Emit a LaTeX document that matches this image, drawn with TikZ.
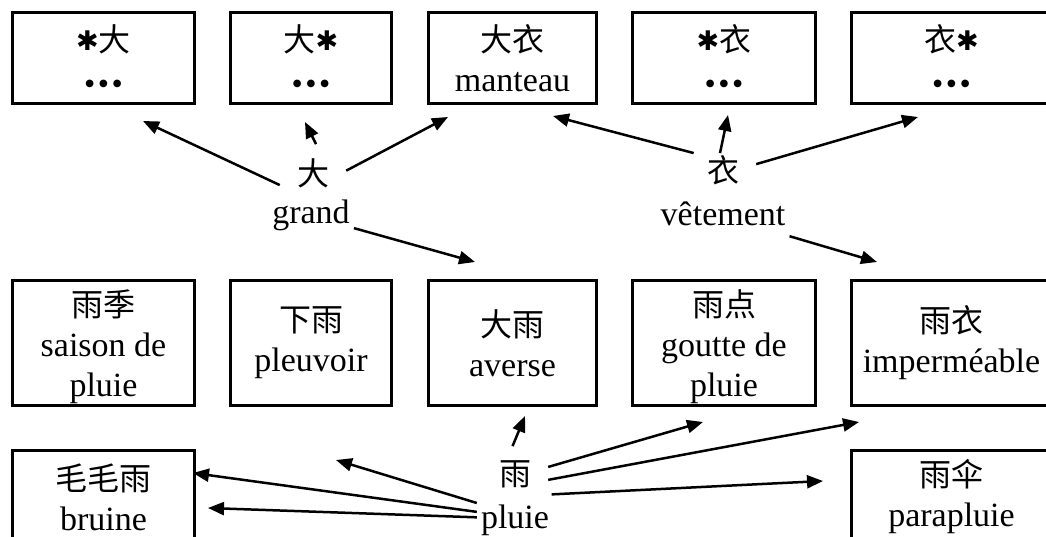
\documentclass[tikz,border=0pt]{standalone}
\usepackage{fontspec}
\setmainfont{Liberation Serif}
\newfontfamily\cjk{Noto Sans CJK SC}
\newfontfamily\dejavu{DejaVu Sans}
\newcommand{\zh}[1]{{\cjk\fontsize{32}{40}\selectfont #1}}
\newcommand{\xing}{\raisebox{1pt}{\dejavu\fontsize{27}{40}\selectfont ✱}}
\newcommand{\sandian}{\raisebox{5pt}{\dejavu\fontsize{10}{40}\selectfont ●\hspace{5pt}●\hspace{5pt}●}}
\usetikzlibrary{arrows.meta}

\begin{document}
\begin{tikzpicture}[x=1pt, y=-1pt, >={Triangle[length=16pt,width=13pt]},
    font=\fontsize{34}{40}\selectfont,
    box/.style={draw, line width=3pt, inner sep=0pt, align=center},
    hub/.style={inner xsep=17pt, inner ysep=14pt},
    word/.style={inner xsep=4pt, inner ysep=10pt},
    arr/.style={->, line width=2.5pt}]
    \useasboundingbox (0,0) rectangle (1046,537);
    \clip (0,0) rectangle (1046,537);

    % --- 上排 ---
    \node[box, minimum width=182pt, minimum height=91pt] (sda) at (103.5,58) {\xing\zh{大}\\\sandian};
    \node[box, minimum width=161pt, minimum height=91pt] (das) at (311,58) {\zh{大}\xing\\\sandian};
    \node[box, minimum width=168pt, minimum height=91pt] (dayi) at (512.5,58) {\zh{大衣}\\manteau};
    \node[box, minimum width=183pt, minimum height=91pt] (syi) at (724,58) {\xing\zh{衣}\\\sandian};
    \node[box, minimum width=200pt, minimum height=91pt] (yis) at (951.5,58) {\zh{衣}\xing\\\sandian};

    % --- 中排 ---
    \node[box, minimum width=182pt, minimum height=125pt, text depth=-4pt] (yuji) at (103.5,343) {\zh{雨季}\\saison de\\pluie};
    \node[box, minimum width=161pt, minimum height=125pt] (xiayu) at (311,343) {\zh{下雨}\\pleuvoir};
    \node[box, minimum width=168pt, minimum height=125pt] (dayu) at (512.5,343) {\zh{大雨}\\averse};
    \node[box, minimum width=183pt, minimum height=125pt, text depth=-4pt] (yudian) at (724,343) {\zh{雨点}\\goutte de\\pluie};
    \node[box, minimum width=200pt, minimum height=125pt] (yuyi) at (951.5,343) {\zh{雨衣}\\imperméable};

    % --- 下排 ---
    \node[box, minimum width=182pt, minimum height=93pt] (maomaoyu) at (103.5,497) {\zh{毛毛雨}\\bruine};
    \node[box, minimum width=200pt, minimum height=93pt] (yusan) at (951.5,497) {\zh{雨伞}\\parapluie};

    % --- 字 ---
    \node[hub] (da) at (313,173) {\zh{大}};
    \node[word] (grand) at (311,215) {grand};
    \node[hub, inner ysep=2pt] (yi) at (723,170) {\zh{衣}};
    \node[word] (vetement) at (723,214) {vêtement};
    \node[hub] (yu) at (515,474) {\zh{雨}};
    \node[word] (pluie) at (515,520) {pluie};

    % --- 箭头 ---
    \coordinate (t-sda) at (143,121);
    \coordinate (t-das) at (305,122);
    \coordinate (t-dayi) at (448,117);
    \coordinate (t-dayu) at (475,262);
    \coordinate (t-dayi2) at (553,116);
    \coordinate (t-syi) at (728,115);
    \coordinate (t-yis) at (918,117);
    \coordinate (t-yuyi) at (877,262);
    \coordinate (t-dayu2) at (525,416);
    \coordinate (t-yudian) at (703,422);
    \coordinate (t-yuyi2) at (859,422);
    \coordinate (t-yusan) at (823,481);
    \coordinate (t-xiayu) at (336,460);
    \coordinate (t-mao1) at (193,473);
    \coordinate (t-mao2) at (208,508);

    \draw[arr] (da.200) -- (t-sda);
    \draw[arr] (da.84) -- (t-das);
    \draw[arr] (da.4) -- (t-dayi);
    \draw[arr] (grand.-17) -- (t-dayu);
    \draw[arr] (yi.150) -- (t-dayi2);
    \draw[arr] (yi.100) -- (t-syi);
    \draw[arr] (yi.10) -- (t-yis);
    \draw[arr] (vetement.south east) -- (t-yuyi);
    \draw[arr] (yu.95) -- (t-dayu2);
    \draw[arr] (yu.12) -- (t-yudian);
    \draw[arr] (yu.-10) -- (t-yuyi2);
    \draw[arr] (pluie.35) -- (t-yusan);
    \draw[arr] (pluie.156) -- (t-xiayu);
    \draw[arr] (pluie.168) -- (t-mao1);
    \draw[arr] (pluie.176) -- (t-mao2);
\end{tikzpicture}
\end{document}
